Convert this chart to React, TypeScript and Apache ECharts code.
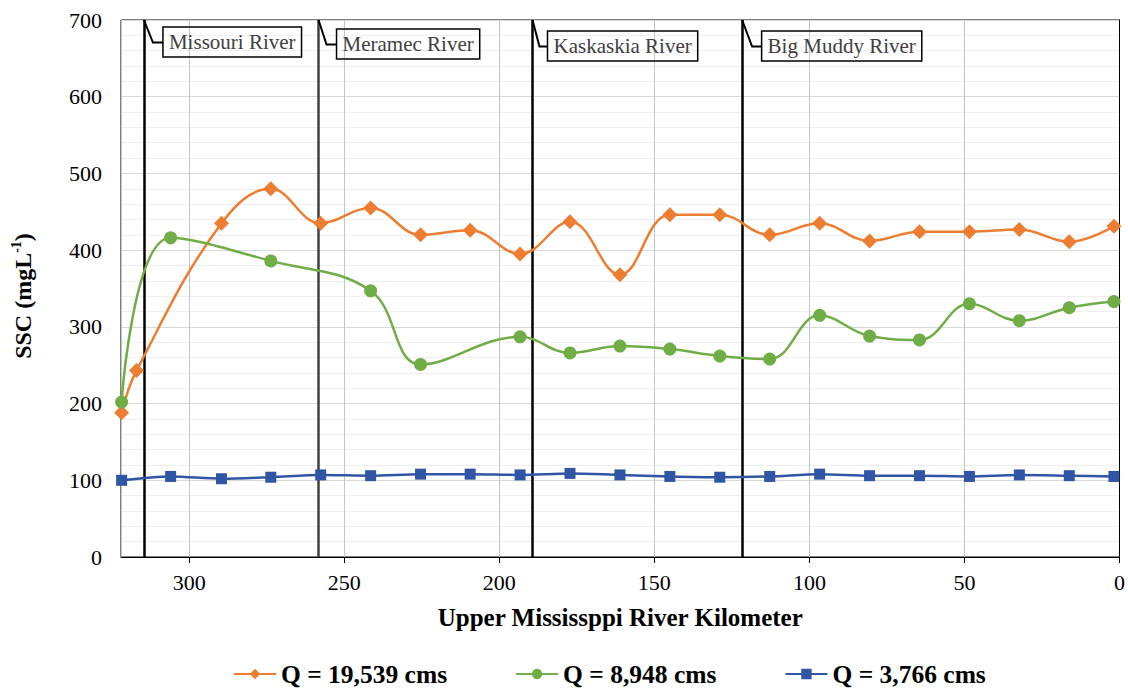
import React, { useEffect, useRef } from "react";
import * as echarts from "echarts";

// ---- data ----
const seriesNames = ["Q = 19,539 cms", "Q = 8,948 cms", "Q = 3,766 cms"];

const kmHigh = [321.8, 317, 289.6, 273.7, 257.6, 241.5, 225.4, 209.4, 193.3, 177.2, 161.1, 145, 128.9, 112.8, 96.7, 80.6, 64.5, 48.4, 32.3, 16.2, 1.8];
const sscHigh = [188, 243, 435, 480, 435, 455, 420, 426, 395, 437, 368, 446, 446, 420, 435, 412, 424, 424, 427, 411, 431];

const kmMid = [321.8, 306, 273.7, 241.5, 225.4, 193.3, 177.2, 161.1, 145, 128.9, 112.8, 96.7, 80.6, 64.5, 48.4, 32.3, 16.2, 1.8];
const sscMid = [202, 416, 386, 347, 251, 287, 266, 275, 271, 262, 258, 315, 288, 283, 330, 308, 325, 333];

const kmLow = [321.8, 306, 289.6, 273.7, 257.6, 241.5, 225.4, 209.4, 193.3, 177.2, 161.1, 145, 128.9, 112.8, 96.7, 80.6, 64.5, 48.4, 32.3, 16.2, 1.8];
const sscLow = [100, 105, 102, 104, 107, 106, 108, 108, 107, 109, 107, 105, 104, 105, 108, 106, 106, 105, 107, 106, 105];

const riverNames = ["Missouri River", "Meramec River", "Kaskaskia River", "Big Muddy River"];
const riverKm = [314.6, 258.3, 189.3, 121.7];

// ---- styles ----
const FONT = "Liberation Serif";
const colors = ["#ED7D31", "#70AD47", "#2F55A4"];
const riverColors = ["#000000", "#404040", "#000000", "#000000"];
// callout layout: [diagonal dx, box dx, box top]
const calloutLayout = [
  [9, 19, 27],
  [8, 18, 29],
  [7, 15, 31],
  [10, 19.5, 31],
];

const GRID_TOP = 20;

function pairs(xs: number[], ys: number[]) {
  return xs.map((x, i) => [x, ys[i]]);
}

export default function App() {
  const ref = useRef<HTMLDivElement>(null);

  useEffect(() => {
    const chart = echarts.init(ref.current!, null, { renderer: "svg" });
    const option: any = {
      animation: false,
      backgroundColor: "#ffffff",
      textStyle: { fontFamily: FONT },
      grid: {
        left: 121,
        right: 8,
        top: GRID_TOP,
        bottom: 133,
        show: true,
        borderColor: "#000",
        borderWidth: 1,
        containLabel: false,
      },
      legend: {
        data: seriesNames,
        left: 228,
        top: 656,
        itemWidth: 42,
        itemHeight: 13,
        itemGap: 68,
        textStyle: { fontSize: 25.5, lineHeight: 26, fontWeight: "bold", color: "#000", fontFamily: FONT },
      },
      xAxis: {
        type: "value",
        inverse: true,
        min: 0,
        max: 322,
        interval: 50,
        name: "Upper Mississppi River Kilometer",
        nameLocation: "middle",
        nameGap: 48,
        nameTextStyle: { fontSize: 25, fontWeight: "bold", color: "#000", fontFamily: FONT },
        axisLine: { show: true, lineStyle: { color: "#000", width: 1 } },
        axisTick: { show: true, inside: false, length: 6, lineStyle: { color: "#000" } },
        axisLabel: {
          fontSize: 22,
          color: "#000",
          fontFamily: FONT,
          margin: 14,
          showMaxLabel: false,
          formatter: (v: number) => (v % 50 === 0 ? String(v) : ""),
        },
        splitLine: { show: true, lineStyle: { color: "#c4c4c4", width: 1 } },
      },
      yAxis: {
        type: "value",
        min: 0,
        max: 700,
        interval: 100,
        axisLine: { show: true, lineStyle: { color: "#000", width: 1 } },
        axisTick: { show: false },
        axisLabel: { fontSize: 22, color: "#000", fontFamily: FONT, margin: 19 },
        splitLine: { show: true, lineStyle: { color: "#d9d9d9", width: 1 } },
        minorTick: { show: false, splitNumber: 5 },
        minorSplitLine: { show: true, lineStyle: { color: "#efefef", width: 1 } },
      },
      series: [
        {
          name: seriesNames[0],
          type: "line",
          data: pairs(kmHigh, sscHigh),
          smooth: 0.4,
          symbol: "diamond",
          symbolSize: 15,
          lineStyle: { color: colors[0], width: 2.5 },
          itemStyle: { color: colors[0] },
          z: 3,
        },
        {
          name: seriesNames[1],
          type: "line",
          data: pairs(kmMid, sscMid),
          smooth: 0.4,
          symbol: "circle",
          symbolSize: 13,
          lineStyle: { color: colors[1], width: 2.5 },
          itemStyle: { color: colors[1] },
          z: 3,
        },
        {
          name: seriesNames[2],
          type: "line",
          data: pairs(kmLow, sscLow),
          smooth: 0.3,
          symbol: "rect",
          symbolSize: 11,
          lineStyle: { color: colors[2], width: 2.5 },
          itemStyle: { color: colors[2] },
          z: 3,
          markLine: {
            silent: true,
            symbol: ["none", "none"],
            label: { show: false },
            animation: false,
            z: 2,
            data: riverKm.map((km, i) => ({
              xAxis: km,
              lineStyle: { color: riverColors[i], width: 2.5, type: "solid" },
            })),
          },
        },
      ],
    };
    chart.setOption(option);

    const graphics: any[] = [];
    riverKm.forEach((km, i) => {
      const px = chart.convertToPixel({ xAxisIndex: 0 }, km) as number;
      const [dDiag, dBox, boxTop] = calloutLayout[i];
      const cy = boxTop + 15.5;
      graphics.push({
        type: "polyline",
        shape: { points: [[px, GRID_TOP], [px + dDiag, cy], [px + dBox, cy]] },
        style: { stroke: "#000", lineWidth: 2, fill: null },
        z: 10,
      });
      graphics.push({
        type: "text",
        x: px + dBox,
        y: boxTop,
        z: 10,
        style: {
          text: riverNames[i],
          fontSize: 21,
          fontFamily: FONT,
          fill: "#404040",
          lineHeight: 26,
          padding: [2, 6, 2, 6],
          borderColor: "#000",
          borderWidth: 1.5,
          align: "left",
          verticalAlign: "top",
        },
      });
    });
    graphics.push({
      type: "text",
      x: 23,
      y: 296,
      rotation: Math.PI / 2,
      z: 10,
      style: {
        text: "{a|SSC (mgL}{b|-1}{a|)}",
        align: "center",
        verticalAlign: "middle",
        fill: "#000",
        fontFamily: FONT,
        fontSize: 24,
        fontWeight: "bold",
        rich: {
          a: { fontSize: 24, fontWeight: "bold", fontFamily: FONT, fill: "#000", lineHeight: 28 },
          b: { fontSize: 14, fontWeight: "bold", fontFamily: FONT, fill: "#000", lineHeight: 28, verticalAlign: "top", padding: [0, 0, 10, 0] },
        },
      },
    });
    chart.setOption({ graphic: graphics });

    return () => chart.dispose();
  }, []);

  return <div ref={ref} style={{ position: "fixed", left: 0, top: 0, width: 1128, height: 690 }} />;
}
